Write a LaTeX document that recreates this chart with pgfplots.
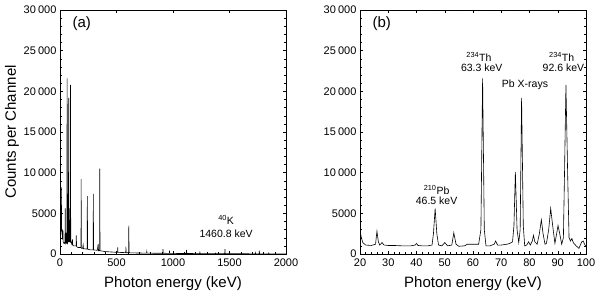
\documentclass[border=0pt]{standalone}
\usepackage{fontspec}
\setmainfont{Liberation Sans}
\usepackage{pgfplots}
\pgfplotsset{compat=1.18}
\begin{document}
\begin{tikzpicture}
\path[use as bounding box] (0pt,0pt) rectangle (600pt,302pt);
\pgfplotsset{
  myax/.style={
    scale only axis, width=226pt, height=244pt,
    anchor=south west,
    ymin=0, ymax=30000,
    ytick={0,5000,10000,15000,20000,25000,30000},
    yticklabels={0,5000,10\hspace{0.2em}000,15\hspace{0.2em}000,20\hspace{0.2em}000,25\hspace{0.2em}000,30\hspace{0.2em}000},
    minor y tick num=4,
    tick align=inside,
    major tick length=3pt, minor tick length=1.5pt,
    tick style={black, line width=0.4pt},
    axis line style={line width=0.8pt},
    scaled ticks=false,
    /pgf/number format/assume math mode=true,
    /pgf/number format/1000 sep={},
    tick label style={font=\fontsize{11}{13}\selectfont},
    xticklabel style={yshift=-1.5pt},
    label style={font=\fontsize{15}{18}\selectfont},
    xlabel={Photon energy (keV)},
    xlabel style={at={(axis description cs:0.5,-0.123)}, anchor=center},
    clip=true,
  }
}
\begin{axis}[myax, at={(60pt,48pt)},
  xmin=0, xmax=2000, xtick={0,500,1000,1500,2000}, minor x tick num=4,
  ylabel={Counts per Channel},
  ylabel style={at={(axis description cs:-0.212,0.5)}, anchor=center}]
\addplot[black, line width=0.6pt] coordinates {
(0,1500) (3,3000) (6,5000) (9,2800) (12,8200) (14,3000) (17,2600) (20,2800)
(22,1800) (26,2900) (28,1500) (35,1300) (40,1400) (44,1300) (46.5,5600) (49,1300)
(53,2600) (56,1300) (60,1300) (63.3,21600) (66,1300) (70,1400) (75,10100) (76,1500)
(77.2,19200) (79,1500) (84,4200) (86,1500) (87.5,5600) (89,1400) (90,3500) (91.5,1400)
(92.9,20800) (95,1600) (98,1500) (105,1200) (110,1800) (113,1100) (120,1000) (130,1000)
(142,1000) (144,2300) (147,900) (160,800) (186,800) (187,9200) (189,700) (200,700)
(205,1100) (208,650) (240,600) (242,7100) (244,600) (270,500) (294,500) (295,7400)
(297,500) (330,450) (338,1200) (341,400) (350,400) (352,10500) (354,400) (400,300)
(450,250) (509,200) (511,800) (513,200) (560,180) (582,160) (583,900) (585,160)
(607,150) (609,3500) (611,150) (700,120) (766,110) (768,300) (770,110) (800,100)
(900,90) (910,90) (911,600) (913,90) (967,80) (969,400) (971,80) (1000,70)
(1118,60) (1120,500) (1122,60) (1236,50) (1238,200) (1240,50) (1375,40) (1377,100)
(1379,40) (1458,40) (1460,600) (1462,40) (1600,30) (1727,20) (1729,150) (1731,20)
(1762,20) (1764,400) (1766,20) (1845,15) (1847,100) (1849,15) (2000,10)
};
\node[font=\fontsize{15}{18}\selectfont, anchor=west] at (axis description cs:0.04,0.946) {(a)};
\node[font=\fontsize{10.5}{12}\selectfont] at (axis cs:1470,4180) {\textsuperscript{40}K};
\node[font=\fontsize{10.5}{12}\selectfont] at (axis cs:1470,2460) {1460.8 keV};
\end{axis}
\begin{axis}[myax, at={(360pt,48pt)},
  xmin=20, xmax=100, xtick={20,30,...,100}, minor x tick num=4]
\addplot[black, line width=0.6pt] coordinates {
(20,2800) (20.5,2000) (21,1400) (22,1100) (24,1050) (25.5,1200) (26,2800) (26.5,1500)
(27,1100) (27.8,1400) (28.5,1100) (30,1050) (32,1050) (35,1000) (38,1000) (39.5,1100)
(40,1300) (40.5,1050) (42,1000) (44,1000) (45.5,1100) (46,2500) (46.6,5600) (47.2,2500)
(47.8,1100) (49,1000) (50,1400) (51,1000) (52.5,1100) (53.2,2600) (54,1200) (55,950)
(57,1000) (58,1200) (60,1200) (62,1200) (62.8,3000) (63.4,21600) (64,3000) (64.6,1000)
(66,1000) (67.5,1200) (68,1600) (68.7,1100) (70,1100) (72,1200) (73,1300) (74,1500)
(74.5,3500) (75,10100) (75.6,3000) (76.2,1400) (76.7,3000) (77.2,19200) (77.8,3500) (78.3,1000)
(79,1100) (79.7,1500) (80.3,1100) (81,1600) (81.4,2300) (81.9,1500) (82.7,1200) (83.5,2500)
(84.2,4200) (84.8,2500) (85.5,1200) (86,1300) (86.8,3000) (87.5,5600) (88.2,3500) (89,1300)
(89.6,2500) (90.1,3500) (90.7,2500) (91.4,1200) (92,2000) (92.4,10000) (92.9,20800) (93.5,10000)
(94,2000) (94.5,1600) (95,1900) (95.5,1400) (96.5,1000) (97.5,700) (98.5,1500) (99,1600)
(99.5,1200) (100,900)
};
\node[font=\fontsize{15}{18}\selectfont, anchor=west] at (axis description cs:0.04,0.946) {(b)};
\node[font=\fontsize{10.5}{12}\selectfont] at (axis cs:47.1,7870) {\textsuperscript{210}Pb};
\node[font=\fontsize{10.5}{12}\selectfont] at (axis cs:47.1,6520) {46.5 keV};
\node[font=\fontsize{10.5}{12}\selectfont] at (axis cs:62.1,24270) {\textsuperscript{234}Th};
\node[font=\fontsize{10.5}{12}\selectfont] at (axis cs:63.1,22920) {63.3 keV};
\node[font=\fontsize{10.5}{12}\selectfont] at (axis cs:78.4,20790) {Pb X-rays};
\node[font=\fontsize{10.5}{12}\selectfont] at (axis cs:91.4,24270) {\textsuperscript{234}Th};
\node[font=\fontsize{10.5}{12}\selectfont] at (axis cs:92.0,22920) {92.6 keV};
\end{axis}
\end{tikzpicture}
\end{document}
